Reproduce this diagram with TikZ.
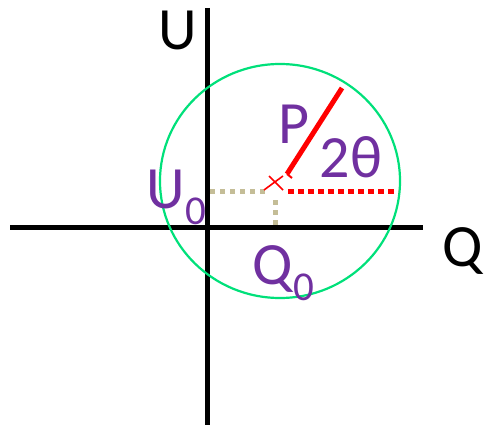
\documentclass[tikz,border=0pt]{standalone}
\usepackage{fontspec}
\setmainfont{Carlito}
\usetikzlibrary{calc,positioning}
\definecolor{morado}{HTML}{7030A0}
\definecolor{verdec}{HTML}{00E07A}
\definecolor{arena}{HTML}{C4BD97}
\definecolor{rojo}{HTML}{FF0000}
\newcommand{\letragr}{\fontsize{60}{60}\selectfont}
\newcommand{\subi}[2]{#1\kern1pt\raisebox{-16pt}{\fontsize{41}{41}\selectfont #2}}

\begin{document}
\begin{tikzpicture}[x=1pt,y=-1pt,line cap=butt,
  eje/.style={black,line width=5pt},
  etiq/.style={inner sep=0pt,anchor=base,font=\letragr},
  punteado/.style={line width=5pt,dash pattern=on 5pt off 5pt}]
  \useasboundingbox (0,0) rectangle (484,428);
  % --- ejes ---
  \coordinate (Ut) at (207,8);
  \coordinate (Ub) at (207,425);
  \coordinate (Ql) at (10,227);
  \coordinate (Qr) at (423,227);
  \draw[eje] (Ut) -- (Ub);
  \draw[eje] (Ql) -- (Qr);
  \node[etiq] (U) at (178,50) {U};
  \node[etiq] (Q) at (463,266) {Q};
  % --- circulo ---
  \coordinate (C) at (280,181);
  \draw[verdec,line width=2.2pt] (C) ellipse [x radius=120pt,y radius=117pt];
  % --- centro y proyecciones ---
  \coordinate (P0) at (276,183);
  \coordinate (Uh) at (210,191);
  \coordinate (Ch) at (265,191);
  \coordinate (Cv) at (275,200);
  \coordinate (Qv) at (275,227);
  \draw[arena,punteado] (Uh) -- (Ch);
  \draw[arena,punteado] (Cv) -- (Qv);
  \coordinate (R0) at (288,191);
  \coordinate (R1) at (398,191);
  \draw[rojo,punteado,dash pattern=on 6pt off 4pt] (R0) -- (R1);
  \draw[rojo,line width=1.6pt] ($(P0)+(-7,-7)$) -- ($(P0)+(7,7)$);
  \draw[rojo,line width=1.6pt] ($(P0)+(7,-7)$) -- ($(P0)+(-12,7)$);
  % --- radio ---
  \coordinate (Pa) at (287,174);
  \coordinate (Pb) at (342,88);
  \draw[rojo,line width=5pt] (Pa) -- (Pb);
  \draw[rojo,line width=2pt] (Pa) -- ++(5,4);
  % --- rotulos ---
  \node[etiq,morado] (P) at (294,143) {P};
  \node[etiq,morado] (ang) at (351,177) {2θ};
  \node[etiq,morado,anchor=base west] (U0) at (146,208) {\subi{U}{0}};
  \node[etiq,morado,anchor=base west] (Q0) at (252,284) {\subi{Q}{0}};
\end{tikzpicture}
\end{document}
